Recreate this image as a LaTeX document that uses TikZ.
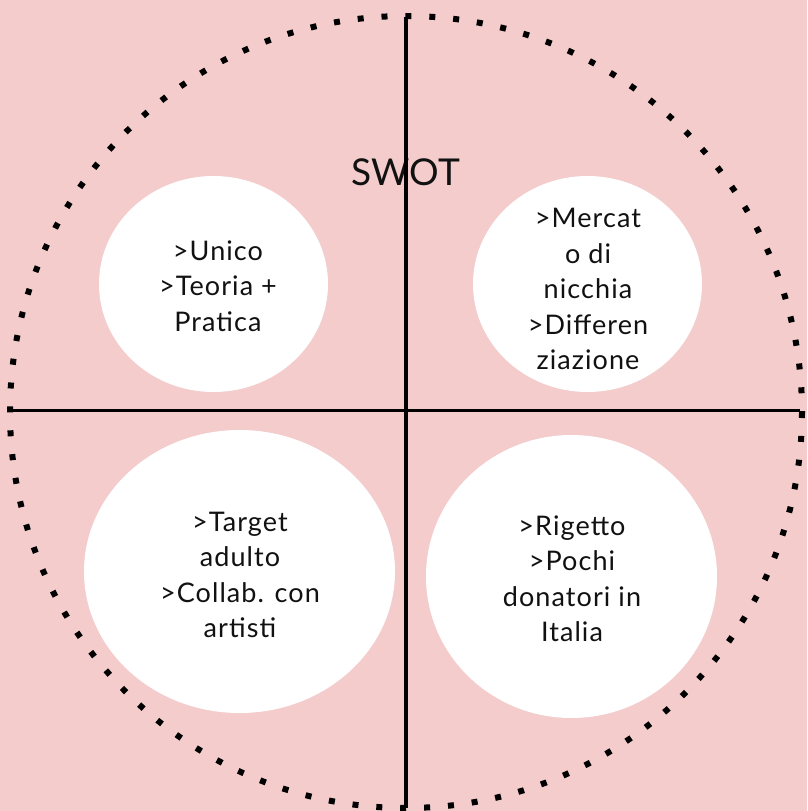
\documentclass[tikz,border=0pt]{standalone}
\usepackage{fontspec}
\setmainfont{Lato}
\newfontfamily\quadfont{Lato}[LetterSpace=4]
\definecolor{bgpink}{HTML}{F4CCCC}
\definecolor{ink}{HTML}{111111}
\begin{document}
\begin{tikzpicture}[x=1pt,y=-1pt,
  blob/.style={fill=white,draw=none},
  quadtext/.style={align=center,text=ink,font=\quadfont\fontsize{27}{35.5}\selectfont,inner sep=0pt},
  axis/.style={line width=3.4pt,draw=black},
  dotring/.style={draw=black,line width=6pt,dash pattern=on 6pt off 17.92pt}]
\useasboundingbox (0,0) rectangle (807,811);
\fill[bgpink] (0,0) rectangle (807,811);
\draw[dotring] (406,412) circle[radius=396];
\coordinate (vt) at (406,17);
\coordinate (vb) at (406,808);
\coordinate (hl) at (12,410.5);
\coordinate (hr) at (800,410.5);
\node[text=ink,font=\fontsize{37}{44}\selectfont,inner sep=0pt] (swot) at (406,172) {SWOT};
\draw[axis] (vt) -- (vb);
\draw[axis] (hl) -- (hr);
\fill[blob] (213.5,284) ellipse[x radius=114.5,y radius=108];
\fill[blob] (587.5,284) ellipse[x radius=114.5,y radius=108];
\fill[blob] (239.5,571.5) ellipse[x radius=155.5,y radius=141.5];
\fill[blob] (571.5,576.5) ellipse[x radius=145.5,y radius=141.5];
\node[quadtext] (s) at (218,286) {>Unico\\>Teoria +\\Pratica};
\node[quadtext] (w) at (588,289) {>Mercat\\o di\\nicchia\\>Differen\\ziazione};
\node[quadtext] (o) at (240,575) {>Target\\adulto\\>Collab. con\\artisti};
\node[quadtext] (t) at (572,579) {>Rigetto\\>Pochi\\donatori in\\Italia};
\end{tikzpicture}
\end{document}
